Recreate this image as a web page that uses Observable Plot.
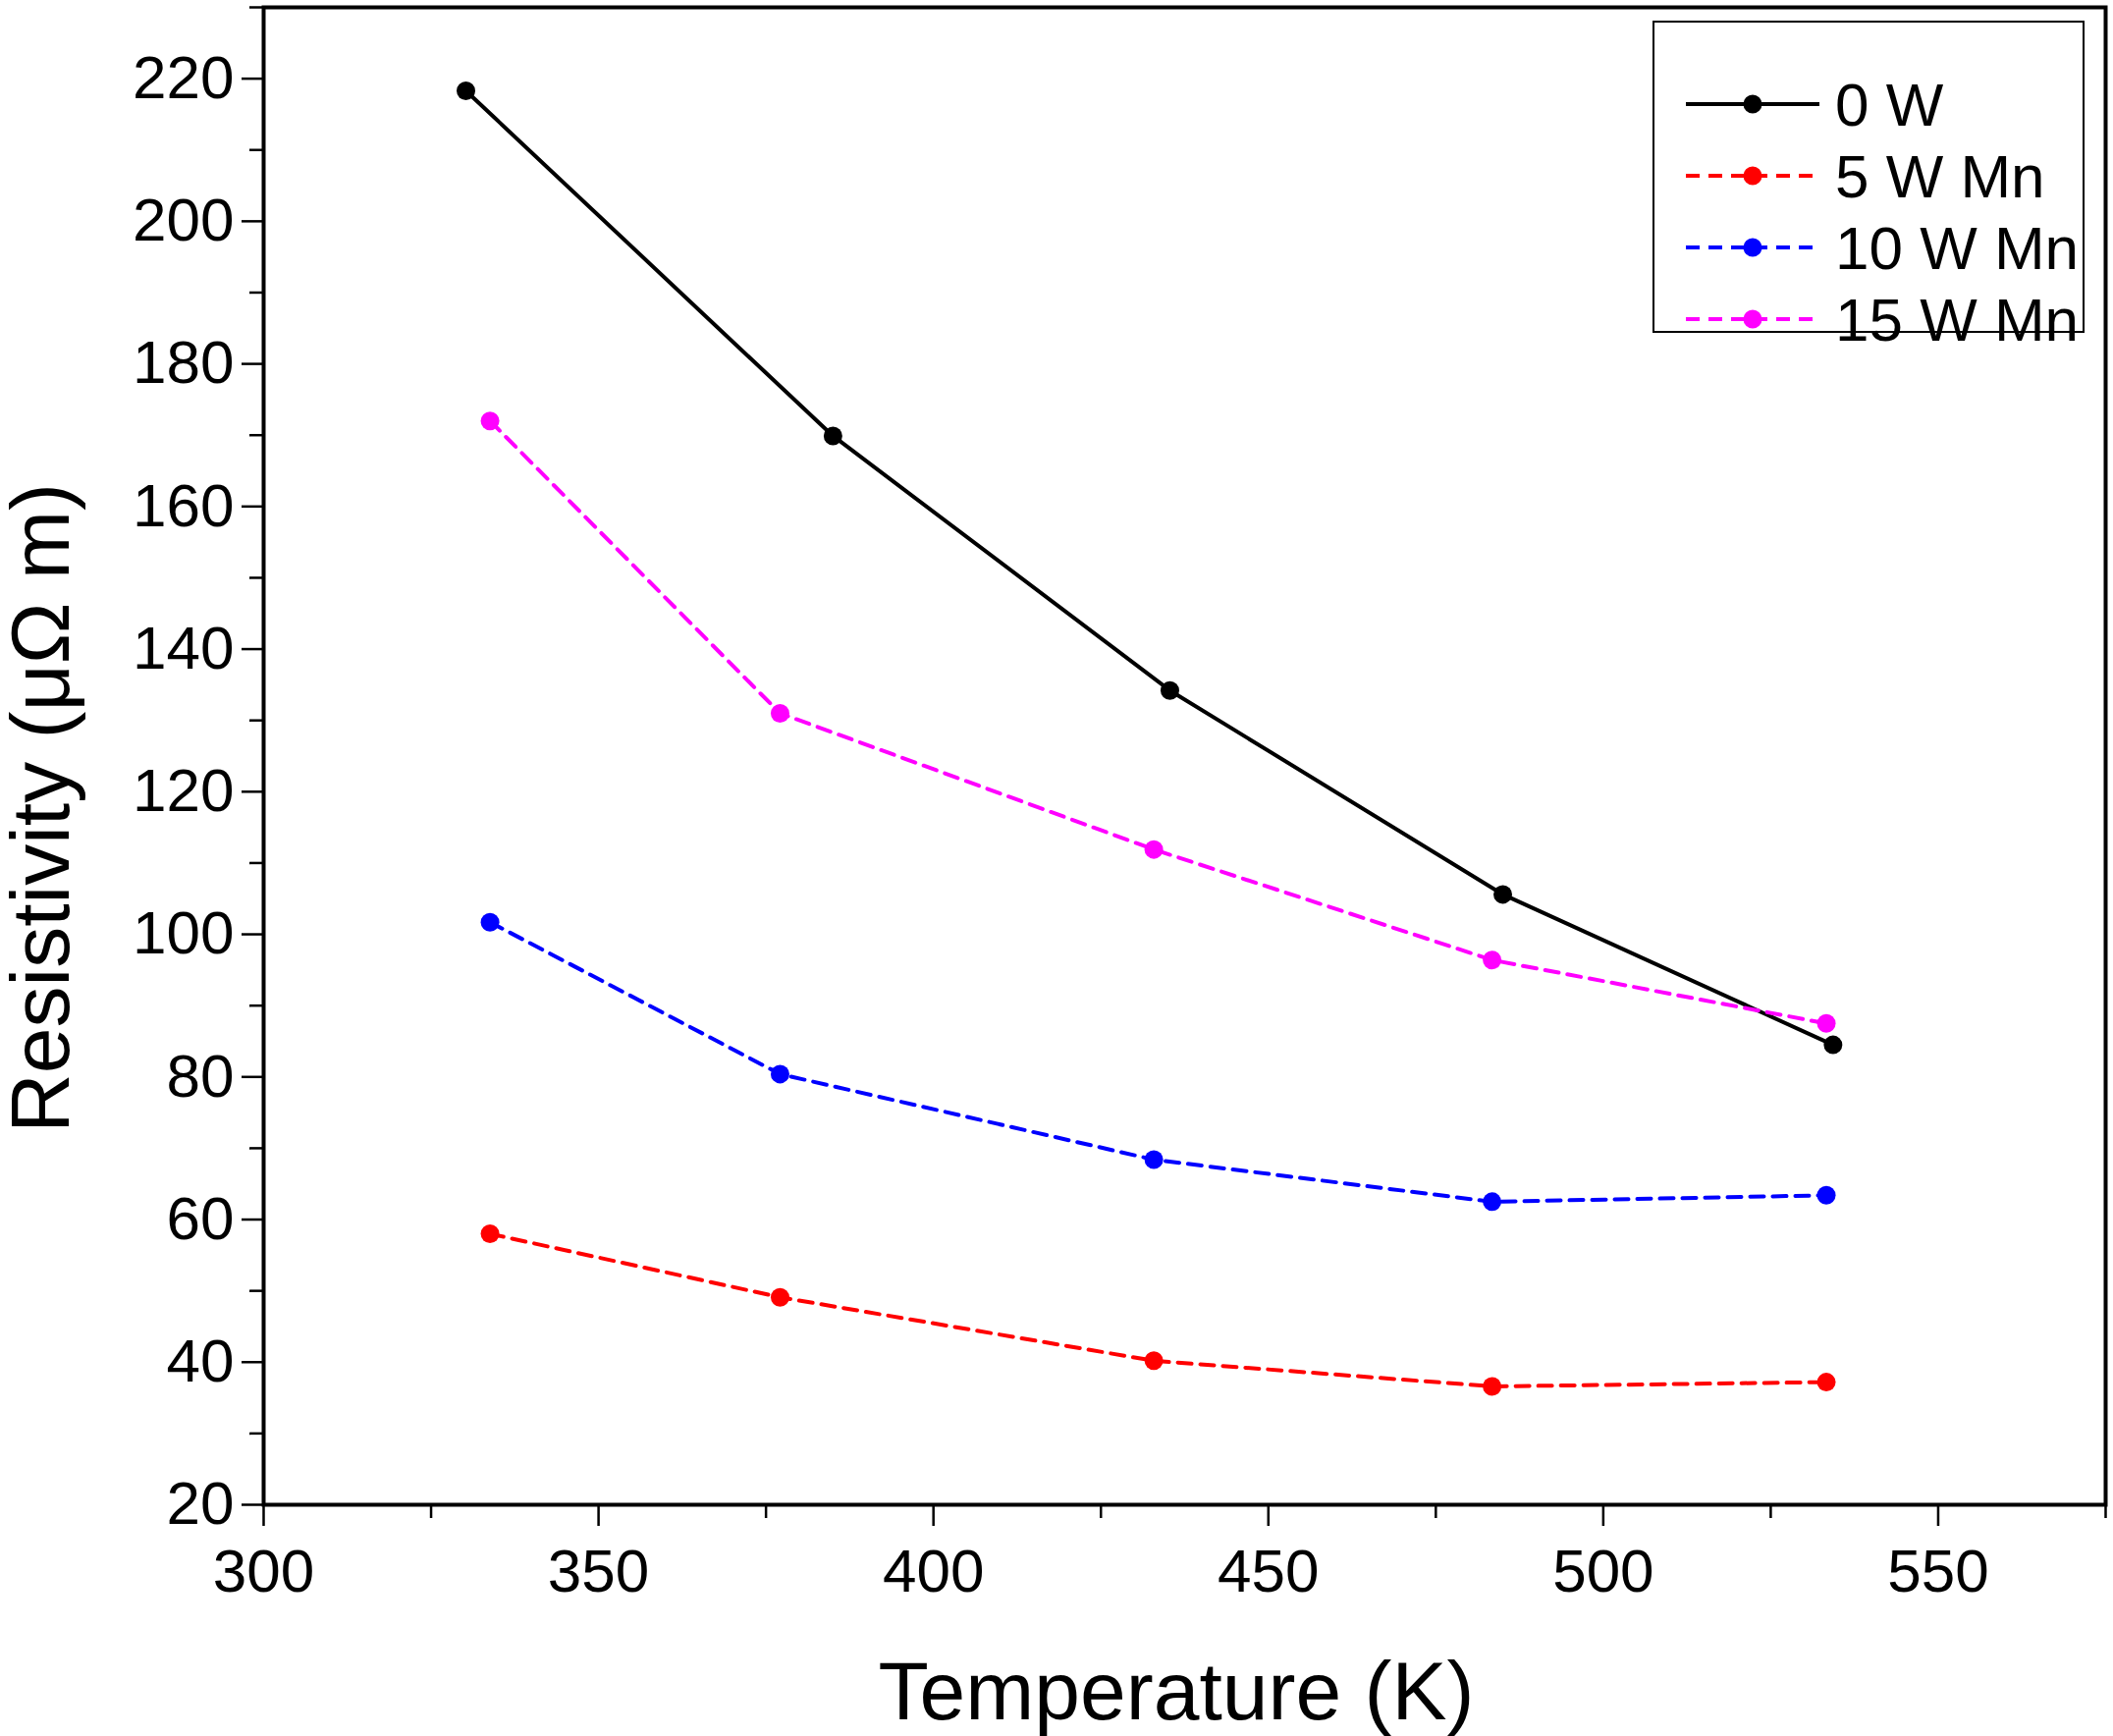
<!DOCTYPE html>
<html><head><meta charset="utf-8">
<script src="https://cdn.jsdelivr.net/npm/d3@7"></script>
<script src="https://cdn.jsdelivr.net/npm/@observablehq/plot@0.6"></script>
<style>body{margin:0;background:#fff;font-family:"Liberation Sans",Arial,sans-serif}#wrap{position:relative;width:2152px;height:1768px}
#leg{position:absolute;left:1683px;top:21px;width:436px;height:314px;border:2.5px solid #000;background:#fff}
.row{position:absolute;left:0;display:flex;align-items:center;font-size:62px;height:70px}
.row svg{margin-left:32px;margin-right:16px}
.lab{position:absolute;font-size:84px;white-space:nowrap;line-height:1}</style></head>
<body><div id="wrap"></div>
<script>
const series = ["0 W","5 W Mn","10 W Mn","15 W Mn"];
const colors = ["#000000","#ff0000","#0000ff","#ff00ff"];
const dashes = [null,"14,9","14,9","14,9"];
const tempA = [330.2,385,435.3,485,534.3];
const tempB = [333.8,377.1,432.9,483.4,533.3];
const r0 = [218.3,169.9,134.2,105.6,84.5];
const r5 = [58,49.1,40.2,36.6,37.2];
const r10 = [101.7,80.4,68.4,62.5,63.4];
const r15 = [172,131,111.9,96.4,87.5];
const vals = [r0,r5,r10,r15];
const temps = [tempA,tempB,tempB,tempB];
const data = series.flatMap((s,i)=>vals[i].map((v,j)=>({s,T:temps[i][j],R:v})));

const marks = [];
series.forEach((s,i)=>{
  const d = data.filter(e=>e.s===s);
  marks.push(Plot.line(d,{x:"T",y:"R",stroke:colors[i],strokeWidth:4,strokeDasharray:dashes[i]}));
  marks.push(Plot.dot(d,{x:"T",y:"R",fill:colors[i],r:9.5}));
});
const plot = Plot.plot({
  width:2152,height:1768,marginLeft:268,marginRight:8,marginTop:7,marginBottom:236,
  style:{fontFamily:"Liberation Sans, Arial, sans-serif",fontSize:"62px",color:"#000",overflow:"visible"},
  x:{domain:[300,575]},y:{domain:[20,230]},
  marks:[
    Plot.axisX({ticks:d3.range(300,576,50),tickSize:22,tickPadding:22,tickFormat:d=>d,label:null,strokeWidth:2.5,fontSize:62}),
    Plot.axisX({ticks:d3.range(325,576,50),tickSize:14,text:null,label:null,strokeWidth:2.5}),
    Plot.axisY({ticks:d3.range(20,221,20),tickSize:22,tickPadding:8,tickFormat:d=>d,label:null,strokeWidth:2.5,fontSize:62}),
    Plot.axisY({ticks:d3.range(30,231,20),tickSize:14,text:null,label:null,strokeWidth:2.5}),
    Plot.frame({stroke:"#000",strokeWidth:4}),
    ...marks
  ]
});
const wrap=document.getElementById("wrap");
wrap.appendChild(plot);
const xl=document.createElement("div");xl.className="lab";xl.textContent="Temperature (K)";
xl.style.left="1198px";xl.style.top="1680px";xl.style.transform="translateX(-50%)";wrap.appendChild(xl);
const yl=document.createElement("div");yl.className="lab";yl.textContent="Resistivity (μΩ m)";
yl.style.left="41px";yl.style.top="823px";yl.style.transform="translate(-50%,-50%) rotate(-90deg)";wrap.appendChild(yl);
const leg=document.createElement("div");leg.id="leg";
series.forEach((s,i)=>{
  const row=document.createElement("div");row.className="row";row.style.top=(48+i*73)+"px";
  const da=dashes[i]?`stroke-dasharray="${dashes[i]}"`:"";
  row.innerHTML=`<svg width="136" height="22"><line x1="0" y1="11" x2="136" y2="11" stroke="${colors[i]}" stroke-width="4" ${da}/><circle cx="68" cy="11" r="9.5" fill="${colors[i]}"/></svg><span>${s}</span>`;
  leg.appendChild(row);
});
wrap.appendChild(leg);
</script></body></html>
